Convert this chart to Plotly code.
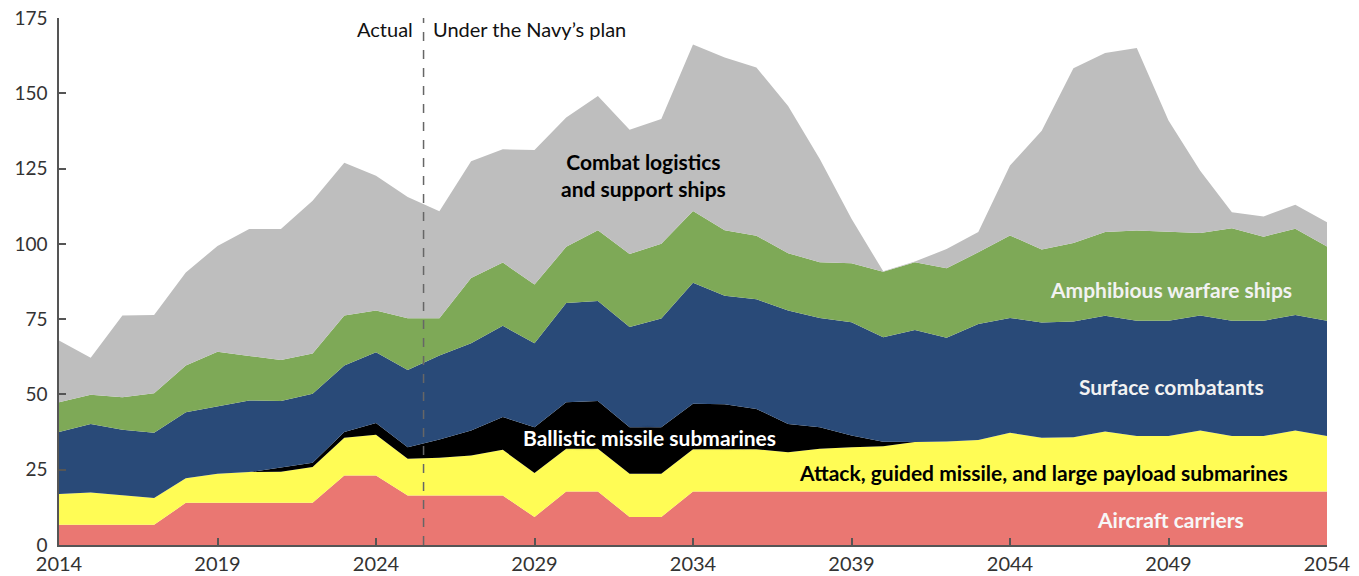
import plotly.graph_objects as go

years = list(range(2014, 2055))

aircraft_carriers = [6.7, 6.7, 6.7, 6.7, 14.0, 14.0, 14.0, 14.0, 14.0, 23.1,
                     23.1, 16.4, 16.4, 16.4, 16.4, 9.3, 17.8, 17.8, 9.3, 9.3,
                     17.8, 17.8, 17.8, 17.8, 17.8, 17.8, 17.8, 17.8, 17.8, 17.8,
                     17.8, 17.8, 17.8, 17.8, 17.8, 17.8, 17.8, 17.8, 17.8, 17.8, 17.8]
attack_subs = [10.2, 10.7, 9.8, 8.9, 8.2, 9.7, 10.2, 10.3, 11.9, 12.5,
               13.5, 12.2, 12.6, 13.3, 15.2, 14.6, 14.2, 14.2, 14.4, 14.4,
               14.0, 14.0, 14.0, 13.0, 14.2, 14.7, 15.0, 16.4, 16.6, 17.1,
               19.5, 17.8, 18.0, 19.9, 18.4, 18.4, 20.2, 18.4, 18.4, 20.2, 18.4]
ballistic_subs = [0, 0, 0, 0, 0, 0, 0, 1.4, 1.4, 1.9,
                  3.9, 3.9, 6.0, 8.3, 10.9, 15.2, 15.4, 15.8, 15.4, 15.4,
                  15.1, 14.9, 13.4, 9.4, 7.1, 3.9, 1.5, 0, 0, 0,
                  0, 0, 0, 0, 0, 0, 0, 0, 0, 0, 0]
surface_combatants = [20.6, 22.8, 21.8, 21.7, 21.9, 22.3, 23.8, 22.1, 22.9, 22.1,
                      23.5, 25.6, 27.9, 29.0, 30.3, 27.9, 33.0, 33.2, 33.3, 36.1,
                      40.2, 36.1, 36.4, 37.7, 36.3, 37.6, 34.7, 37.2, 34.4, 38.5,
                      38.1, 38.3, 38.4, 38.4, 38.3, 38.3, 38.2, 38.3, 38.3, 38.4, 38.3]
amphibious = [9.9, 9.7, 10.8, 13.1, 15.5, 18.2, 14.8, 13.6, 13.4, 16.6,
              13.9, 17.2, 12.4, 21.7, 21.0, 19.5, 18.6, 23.5, 24.2, 24.8,
              23.8, 21.7, 21.1, 19.0, 18.5, 19.6, 21.7, 22.5, 23.1, 23.8,
              27.4, 24.2, 26.1, 27.8, 29.9, 29.4, 27.4, 30.7, 27.9, 28.6, 24.6]
combat_logistics = [20.5, 12.3, 27.1, 26.0, 30.9, 35.1, 42.1, 43.5, 50.7, 50.7,
                    44.7, 40.3, 35.5, 38.7, 37.6, 44.7, 43.0, 44.6, 41.3, 41.5,
                    55.3, 57.4, 55.9, 48.9, 34.3, 14.7, 0.2, 0.2, 6.4, 6.7,
                    23.2, 39.5, 58.0, 59.5, 60.6, 37.1, 20.7, 5.3, 6.7, 8.0, 8.1]

x_ticks = [2014, 2019, 2024, 2029, 2034, 2039, 2044, 2049, 2054]
y_ticks = [0, 25, 50, 75, 100, 125, 150, 175]

series = [
    ("Aircraft carriers", aircraft_carriers, "#EA7772"),
    ("Attack, guided missile, and large payload submarines", attack_subs, "#FFFC55"),
    ("Ballistic missile submarines", ballistic_subs, "#000000"),
    ("Surface combatants", surface_combatants, "#294A78"),
    ("Amphibious warfare ships", amphibious, "#7EA957"),
    ("Combat logistics and support ships", combat_logistics, "#BEBEBE"),
]

fig = go.Figure()
for name, vals, color in series:
    fig.add_trace(go.Scatter(
        x=years, y=vals, name=name, mode="lines", stackgroup="one",
        line=dict(width=0, color=color), fillcolor=color, hoverinfo="x+y+name",
    ))

FONT = "Lato"
LBL = 21
fig.add_shape(type="line", x0=2025.5, x1=2025.5, y0=0, y1=175, xref="x", yref="y",
              line=dict(color="#666666", width=1.5, dash="dash"))

ann = []
ann.append(dict(x=2025.5, y=171.5, text="Actual", xanchor="right", xshift=-9,
                showarrow=False, font=dict(family=FONT, size=20, color="#111111")))
ann.append(dict(x=2025.5, y=171.5, text="Under the Navy\u2019s plan", xanchor="left", xshift=7,
                showarrow=False, font=dict(family=FONT, size=20, color="#111111")))
ann.append(dict(x=2032.45, y=123.0, text="<b>Combat logistics<br>and support ships</b>",
                showarrow=False, font=dict(family=FONT, size=LBL, color="#000000")))
ann.append(dict(x=2032.64, y=35.7, text="<b>Ballistic missile submarines</b>",
                showarrow=False, font=dict(family=FONT, size=LBL, color="#ffffff",
                                           shadow="0px 0px 3px #000, 0px 0px 4px #000, 0px 0px 4px #000")))
ann.append(dict(x=2045.07, y=24.1, text="<b>Attack, guided missile, and large payload submarines</b>",
                showarrow=False, font=dict(family=FONT, size=LBL, color="#000000")))
ann.append(dict(x=2049.08, y=52.6, text="<b>Surface combatants</b>",
                showarrow=False, font=dict(family=FONT, size=LBL, color="#f2f2f2")))
ann.append(dict(x=2049.08, y=84.8, text="<b>Amphibious warfare ships</b>",
                showarrow=False, font=dict(family=FONT, size=LBL, color="#f2f2f2")))
ann.append(dict(x=2049.05, y=8.5, text="<b>Aircraft carriers</b>",
                showarrow=False, font=dict(family=FONT, size=LBL, color="#f7f7f7")))

fig.update_layout(
    width=1359, height=576,
    margin=dict(l=59, r=32, t=18, b=31, autoexpand=False),
    paper_bgcolor="white", plot_bgcolor="white",
    showlegend=False,
    annotations=ann,
    font=dict(family=FONT, size=18, color="#333333"),
)
fig.update_xaxes(range=[2014, 2054], tickvals=x_ticks, ticktext=[str(v) for v in x_ticks],
                 automargin=False,
                 showgrid=False, zeroline=False, showline=True, linecolor="#555555", linewidth=1.5,
                 ticks="inside", ticklen=7, tickcolor="#555555", tickwidth=1.5,
                 tickfont=dict(family=FONT, size=20, color="#333333"), ticklabelstandoff=0)
fig.update_yaxes(range=[0, 175], tickvals=y_ticks, ticktext=[str(v) for v in y_ticks],
                 automargin=False,
                 showgrid=False, zeroline=False, showline=True, linecolor="#555555", linewidth=1.5,
                 ticks="inside", ticklen=7, tickcolor="#555555", tickwidth=1.5,
                 tickfont=dict(family=FONT, size=19, color="#333333"), ticklabelstandoff=6)

fig.write_html("out.html")
